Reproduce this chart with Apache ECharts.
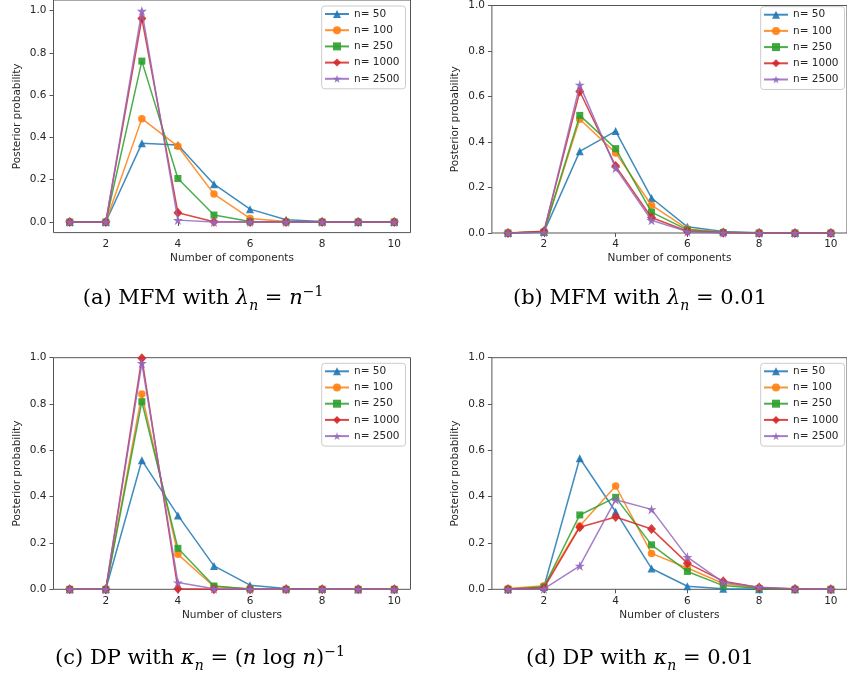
<!DOCTYPE html>
<html>
<head>
<meta charset="utf-8">
<script src="https://cdn.jsdelivr.net/npm/echarts@6/dist/echarts.min.js"></script>
<style>
html,body{margin:0;padding:0;background:#fff;}
#chart{width:847px;height:678px;}
</style>
</head>
<body>
<div id="chart"></div>
<script>
// ---------- data ----------
const ks = [1, 2, 3, 4, 5, 6, 7, 8, 9, 10];
const seriesNames = ['n= 50', 'n= 100', 'n= 250', 'n= 1000', 'n= 2500'];
const xTicks = [2, 4, 6, 8, 10];
const yTicks = [0, 0.2, 0.4, 0.6, 0.8, 1.0];

// (a) MFM with lambda_n = 1/n
const mfmInv_n50   = [0, 0, 0.372, 0.364, 0.179, 0.061, 0.011, 0.003, 0, 0];
const mfmInv_n100  = [0, 0, 0.489, 0.358, 0.132, 0.017, 0.003, 0, 0, 0];
const mfmInv_n250  = [0, 0, 0.761, 0.206, 0.033, 0.002, 0, 0, 0, 0];
const mfmInv_n1000 = [0, 0, 0.963, 0.044, 0.001, 0, 0, 0, 0, 0];
const mfmInv_n2500 = [0, 0, 0.998, 0.009, 0, 0, 0, 0, 0, 0];

// (b) MFM with lambda_n = 0.01
const mfm001_n50   = [0, 0.004, 0.359, 0.448, 0.154, 0.027, 0.007, 0.001, 0, 0];
const mfm001_n100  = [0, 0.005, 0.500, 0.352, 0.122, 0.018, 0.003, 0, 0, 0];
const mfm001_n250  = [0, 0.004, 0.517, 0.371, 0.092, 0.014, 0.002, 0, 0, 0];
const mfm001_n1000 = [0, 0.008, 0.622, 0.294, 0.068, 0.008, 0.001, 0, 0, 0];
const mfm001_n2500 = [0, 0.003, 0.651, 0.285, 0.056, 0.006, 0.001, 0, 0, 0];

// (c) DP with kappa_n = (n log n)^-1
const dpInv_n50   = [0, 0, 0.557, 0.319, 0.101, 0.018, 0.003, 0.001, 0, 0];
const dpInv_n100  = [0, 0, 0.843, 0.151, 0.012, 0.001, 0, 0, 0, 0];
const dpInv_n250  = [0, 0, 0.810, 0.177, 0.014, 0.001, 0, 0, 0, 0];
const dpInv_n1000 = [0, 0, 0.998, 0.002, 0, 0, 0, 0, 0, 0];
const dpInv_n2500 = [0, 0, 0.976, 0.029, 0.002, 0, 0, 0, 0, 0];

// (d) DP with kappa_n = 0.01
const dp001_n50   = [0, 0.010, 0.566, 0.335, 0.090, 0.013, 0.002, 0, 0, 0];
const dp001_n100  = [0.003, 0.015, 0.273, 0.446, 0.155, 0.092, 0.025, 0.005, 0.001, 0];
const dp001_n250  = [0, 0.010, 0.321, 0.397, 0.192, 0.077, 0.016, 0.003, 0, 0];
const dp001_n1000 = [0, 0.005, 0.268, 0.312, 0.260, 0.113, 0.035, 0.008, 0.001, 0];
const dp001_n2500 = [0, 0.002, 0.101, 0.387, 0.345, 0.139, 0.030, 0.009, 0.002, 0];

const panels = [
  { xName: 'Number of components', data: [mfmInv_n50, mfmInv_n100, mfmInv_n250, mfmInv_n1000, mfmInv_n2500] },
  { xName: 'Number of components', data: [mfm001_n50, mfm001_n100, mfm001_n250, mfm001_n1000, mfm001_n2500] },
  { xName: 'Number of clusters', data: [dpInv_n50, dpInv_n100, dpInv_n250, dpInv_n1000, dpInv_n2500] },
  { xName: 'Number of clusters', data: [dp001_n50, dp001_n100, dp001_n250, dp001_n1000, dp001_n2500] }
];

// ---------- styles / layout ----------
const colors = ['#1f77b4', '#ff7f0e', '#2ca02c', '#d62728', '#9467bd'];
const starPath = 'path://M50,0 L61.2,34.5 L97.6,34.5 L68.2,55.9 L79.4,90.5 L50,69.1 L20.6,90.5 L31.8,55.9 L2.4,34.5 L38.8,34.5 Z';
const symbols = ['triangle', 'circle', 'rect', 'diamond', starPath];
const symbolSizes = [8, 7.5, 7, [9, 10], 10];

const grids = [
  { left: 53.5, top: -0.6, width: 357, height: 233.2, ymin: -0.05, ymax: 1.05 },
  { left: 491.9, top: 1.4, width: 357.7, height: 231.6, ymin: 0, ymax: 1 },
  { left: 53.5, top: 357.7, width: 357, height: 231.6, ymin: 0, ymax: 1 },
  { left: 491.9, top: 357.7, width: 357.7, height: 231.6, ymin: 0, ymax: 1 }
];
const legendPos = [
  { left: 321.7, top: 6 },
  { left: 760.7, top: 6.7 },
  { left: 321.7, top: 363.3 },
  { left: 760.7, top: 363.3 }
];

const txtColor = '#262626';
const spineColor = '#555';
const sans = 'DejaVu Sans';

const option = {
  backgroundColor: '#fff',
  animation: false,
  grid: grids.map(g => ({
    left: g.left, top: g.top, width: g.width, height: g.height,
    show: true, borderColor: spineColor, borderWidth: 1, backgroundColor: 'transparent',
    containLabel: false
  })),
  xAxis: grids.map((g, i) => ({
    type: 'value', gridIndex: i, min: 0.55, max: 10.45,
    name: panels[i].xName, nameLocation: 'middle', nameGap: 20, nameMoveOverlap: false,
    nameTextStyle: { fontFamily: sans, fontSize: 10.5, color: txtColor },
    axisLine: { show: false },
    axisTick: { show: true, inside: false, length: 4, lineStyle: { color: spineColor }, customValues: xTicks },
    axisLabel: { show: true, margin: 6, fontFamily: sans, fontSize: 10.5, color: txtColor, customValues: xTicks,
                 formatter: v => String(v) },
    splitLine: { show: false }
  })),
  yAxis: grids.map((g, i) => ({
    type: 'value', gridIndex: i, min: g.ymin, max: g.ymax,
    name: 'Posterior probability', nameLocation: 'middle', nameRotate: 90, nameGap: 31, nameMoveOverlap: false,
    nameTextStyle: { fontFamily: sans, fontSize: 10.5, color: txtColor },
    axisLine: { show: false },
    axisTick: { show: true, inside: false, length: 4, lineStyle: { color: spineColor }, customValues: yTicks },
    axisLabel: { show: true, margin: 7, fontFamily: sans, fontSize: 10.5, color: txtColor, customValues: yTicks,
                 formatter: v => v.toFixed(1), showMinLabel: true, showMaxLabel: true },
    splitLine: { show: false }
  })),
  legend: legendPos.map((p, i) => ({
    data: seriesNames, orient: 'vertical', left: p.left, top: p.top,
    itemWidth: 24, itemHeight: 10, itemGap: 4.2,
    padding: [2, 6, 4, 2.3],
    backgroundColor: 'rgba(255,255,255,0.8)', borderColor: '#cccccc', borderWidth: 1, borderRadius: 3,
    textStyle: { fontFamily: sans, fontSize: 10.5, color: txtColor, lineHeight: 12 },
    selectedMode: false
  })),
  series: [],
  graphic: []
};

panels.forEach((p, pi) => {
  p.data.forEach((vals, si) => {
    option.series.push({
      type: 'line', name: seriesNames[si], xAxisIndex: pi, yAxisIndex: pi,
      data: ks.map((k, j) => [k, vals[j]]),
      symbol: symbols[si], symbolSize: symbolSizes[si], showAllSymbol: true,
      color: colors[si],
      lineStyle: { width: 1.5, color: colors[si], opacity: 0.85 },
      itemStyle: { color: colors[si], opacity: 0.9 },
      emphasis: { disabled: true },
      z: 2 + si
    });
  });
});

// ---------- captions ----------
const serif = 'DejaVu Serif';
const capRich = {
  t:   { fontFamily: serif, fontSize: 21, lineHeight: 28, color: '#111' },
  it:  { fontFamily: serif, fontSize: 21, fontStyle: 'italic', lineHeight: 28, color: '#111' },
  sub: { fontFamily: serif, fontSize: 14, fontStyle: 'italic', lineHeight: 14, verticalAlign: 'bottom', color: '#111' },
  sup: { fontFamily: serif, fontSize: 14, lineHeight: 14, verticalAlign: 'top', color: '#111' }
};
const captions = [
  { x: 203, y: 299, text: '{t|(a) MFM with }{it|λ}{sub|n}{t| = }{it|n}{sup|−1}' },
  { x: 640, y: 299, text: '{t|(b) MFM with }{it|λ}{sub|n}{t| = 0.01}' },
  { x: 200, y: 659, text: '{t|(c) DP with }{it|κ}{sub|n}{t| = (}{it|n}{t| log }{it|n}{t|)}{sup|−1}' },
  { x: 640, y: 659, text: '{t|(d) DP with }{it|κ}{sub|n}{t| = 0.01}' }
];
captions.forEach(c => {
  option.graphic.push({
    type: 'text', x: c.x, y: c.y,
    style: { text: c.text, rich: capRich, align: 'center', verticalAlign: 'middle',
             fontFamily: serif, fontSize: 21 }
  });
});

const chart = echarts.init(document.getElementById('chart'), null, { renderer: 'canvas' });
chart.setOption(option);
</script>
</body>
</html>
